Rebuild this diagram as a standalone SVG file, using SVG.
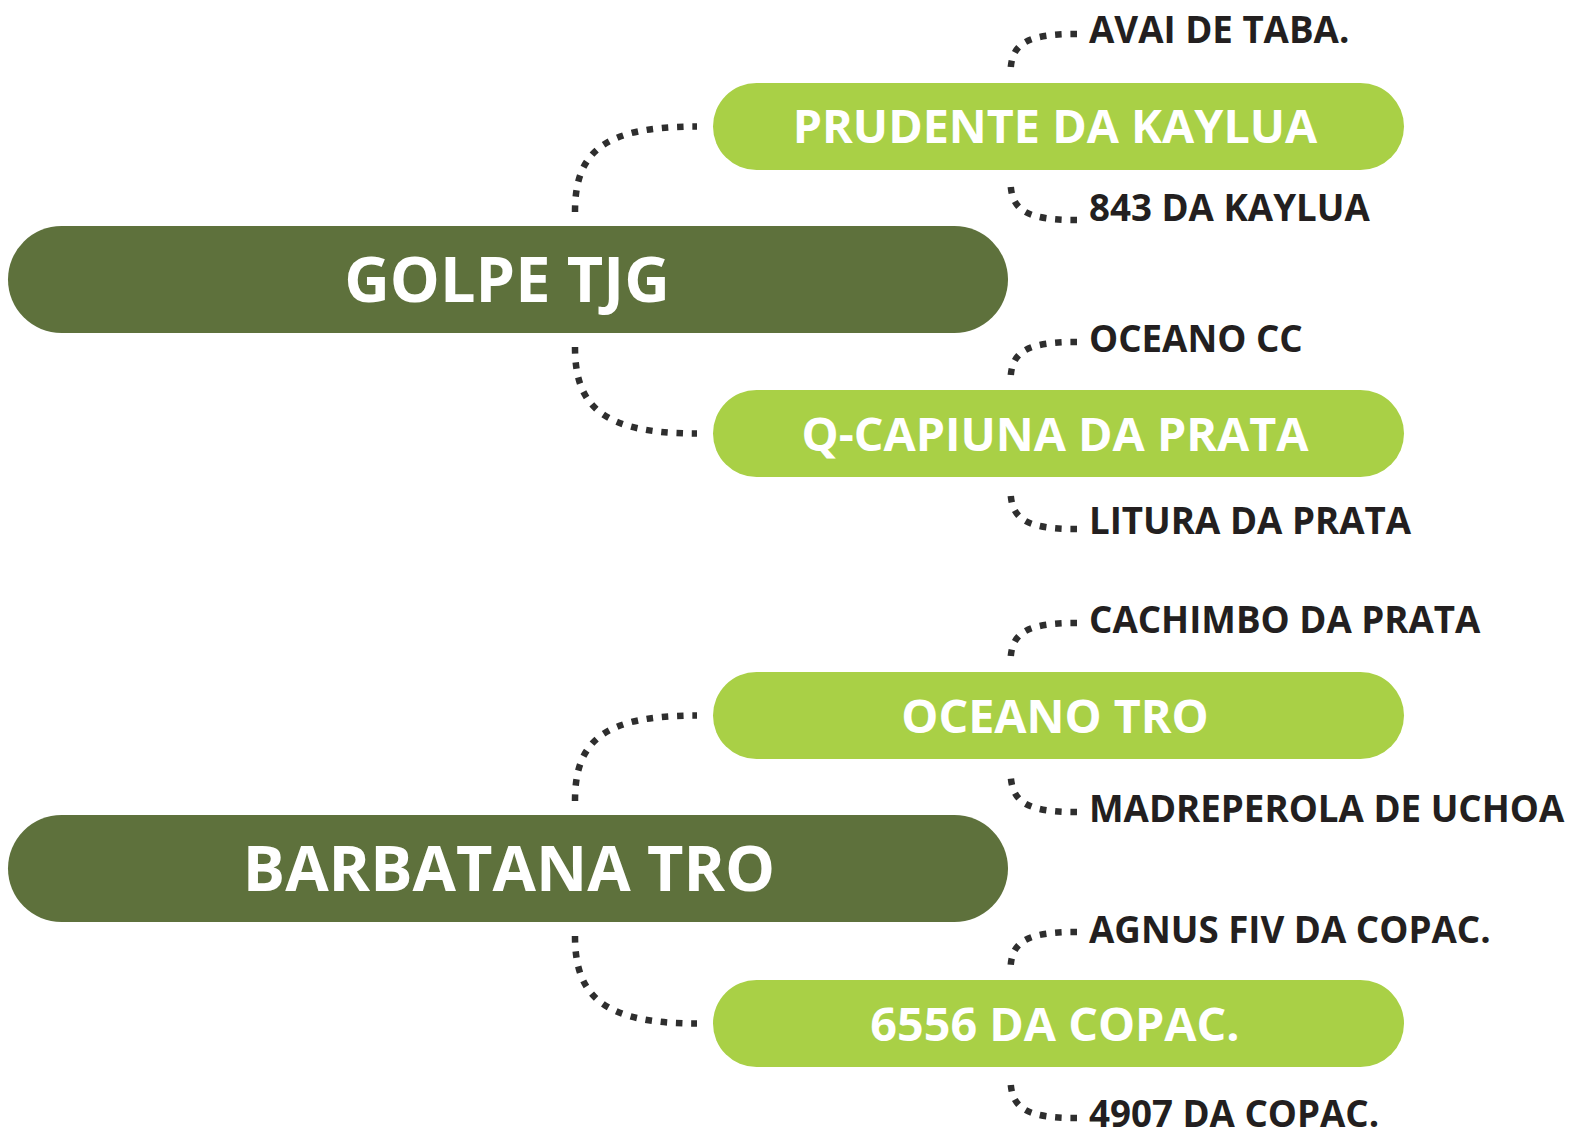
<svg xmlns="http://www.w3.org/2000/svg" width="1589" height="1135" viewBox="0 0 1589 1135">
<style>
.dark{fill:#5e713c}
.light{fill:#a9d046}
.t{font-family:"Open Sans","Liberation Sans",sans-serif;font-weight:bold}
.tw{fill:#ffffff;text-anchor:middle}
.big{font-size:63px}
.mid{font-size:46.7px}
.lab{font-size:36.7px;fill:#231f20}
.con path{fill:none;stroke:#2e2e2e;stroke-width:6.5;stroke-dasharray:6.5 8.8;stroke-linecap:butt}
</style>
<rect width="1589" height="1135" fill="#ffffff"/>
<g id="connectors" class="con">
<path d="M575,212 C575,152 603,126.5 697,126.5"/>
<path d="M575,347 C575,407 603,433.5 697,433.5"/>
<path d="M575,801 C575,741 603,715.5 697,715.5"/>
<path d="M575,936 C575,996 603,1023.5 697,1023.5"/>
<path d="M1077,34 C1025,34 1010.5,44 1010.5,74"/>
<path d="M1077,220 C1025,220 1010.5,210 1010.5,180"/>
<path d="M1077,342 C1025,342 1010.5,352 1010.5,382"/>
<path d="M1077,529 C1025,529 1010.5,519 1010.5,489"/>
<path d="M1077,623 C1025,623 1010.5,633 1010.5,663"/>
<path d="M1077,812 C1025,812 1010.5,802 1010.5,770"/>
<path d="M1077,932 C1025,932 1010.5,942 1010.5,971"/>
<path d="M1077,1118 C1025,1118 1010.5,1108 1010.5,1078"/>
</g>
<g id="node-golpe">
<rect class="dark" x="8" y="226" width="1000" height="107" rx="53.5"/>
<text class="t tw big" x="507" y="302">GOLPE TJG</text>
</g>
<g id="node-barbatana">
<rect class="dark" x="8" y="815" width="1000" height="107" rx="53.5"/>
<text class="t tw big" x="509" y="891">BARBATANA TRO</text>
</g>
<g id="node-prudente">
<rect class="light" x="713" y="83" width="691" height="87" rx="43.5"/>
<text class="t tw mid" x="1055" y="143">PRUDENTE DA KAYLUA</text>
</g>
<g id="node-qcapiuna">
<rect class="light" x="713" y="390" width="691" height="87" rx="43.5"/>
<text class="t tw mid" x="1055" y="451">Q-CAPIUNA DA PRATA</text>
</g>
<g id="node-oceanotro">
<rect class="light" x="713" y="672" width="691" height="87" rx="43.5"/>
<text class="t tw mid" x="1055" y="733">OCEANO TRO</text>
</g>
<g id="node-6556">
<rect class="light" x="713" y="980" width="691" height="87" rx="43.5"/>
<text class="t tw mid" x="1055" y="1041">6556 DA COPAC.</text>
</g>
<g id="node-avai"><text class="t lab" x="1089" y="42.5">AVAI DE TABA.</text></g>
<g id="node-843"><text class="t lab" x="1089" y="221">843 DA KAYLUA</text></g>
<g id="node-oceanocc"><text class="t lab" x="1089" y="351.5">OCEANO CC</text></g>
<g id="node-litura"><text class="t lab" x="1089" y="534">LITURA DA PRATA</text></g>
<g id="node-cachimbo"><text class="t lab" x="1089" y="633">CACHIMBO DA PRATA</text></g>
<g id="node-madreperola"><text class="t lab" x="1089" y="822">MADREPEROLA DE UCHOA</text></g>
<g id="node-agnus"><text class="t lab" x="1089" y="942.5">AGNUS FIV DA COPAC.</text></g>
<g id="node-4907"><text class="t lab" x="1089" y="1127">4907 DA COPAC.</text></g>
</svg>
